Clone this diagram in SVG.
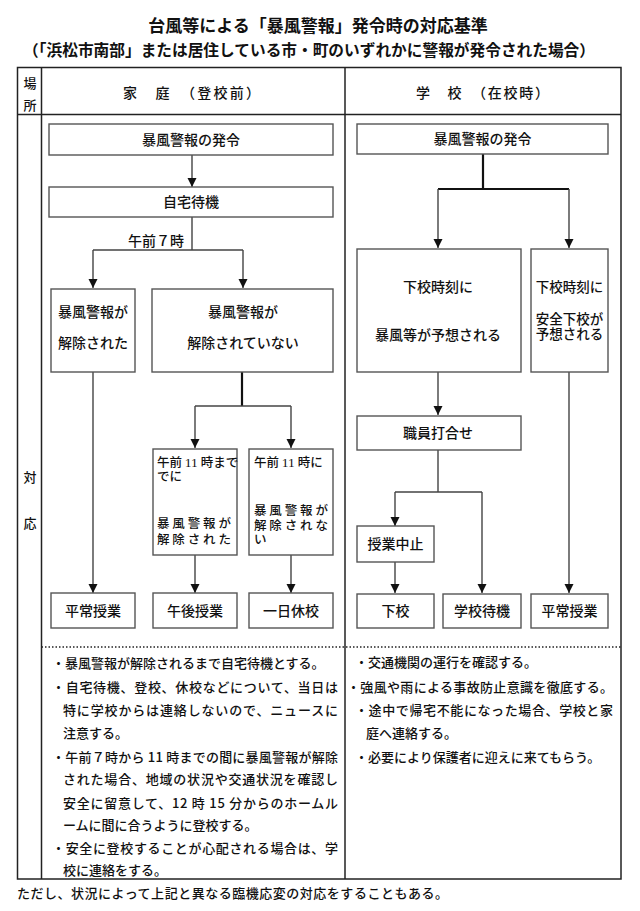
<svg xmlns="http://www.w3.org/2000/svg" width="640" height="911" viewBox="0 0 640 911">
<style>
text{font-family:"Noto Sans CJK JP","Noto Sans CJK SC",sans-serif;fill:#111;}
.t{font-size:17px;font-weight:700;text-anchor:middle;}
.st{font-size:15.5px;font-weight:700;text-anchor:middle;}
.h{font-size:14px;font-weight:500;}
.c{text-anchor:middle;}
.b{font-size:14px;font-weight:500;}
.s{font-size:13.5px;font-weight:500;}
.p{font-size:12.5px;font-weight:500;}
.n{font-size:13px;font-weight:500;}
.box{fill:#fff;stroke:#555;stroke-width:1.4;}
.tbl{fill:none;stroke:#222;stroke-width:1.5;}
.ln{fill:none;stroke:#444;stroke-width:1.4;}
.thk{fill:none;stroke:#111;stroke-width:2.2;}
.arr{marker-end:url(#ah);}
.serif{font-family:"Liberation Serif",serif;font-size:13.5px;}
</style>
<defs>
<marker id="ah" markerUnits="userSpaceOnUse" markerWidth="9" markerHeight="10" refX="9" refY="4.5" orient="auto" viewBox="0 0 9 9">
<path d="M0,0 L9,4.5 L0,9 z" fill="#111"/>
</marker>
</defs>
<rect width="640" height="911" fill="#fff"/>
<text class="t" x="318" y="31.5">台風等による「暴風警報」発令時の対応基準</text>
<text class="st" x="309" y="55.5" textLength="572" lengthAdjust="spacingAndGlyphs">（「浜松市南部」または居住している市・町のいずれかに警報が発令された場合）</text>
<g id="table">
<rect class="tbl" x="17.5" y="67.5" width="603.5" height="811.5"/>
<line class="tbl" x1="41.5" y1="67.5" x2="41.5" y2="879"/>
<line class="tbl" x1="345" y1="67.5" x2="345" y2="879"/>
<line class="tbl" x1="17.5" y1="114.5" x2="621" y2="114.5"/>
<line x1="41.5" y1="647" x2="621" y2="647" stroke="#222" stroke-width="1.4" stroke-dasharray="1.5,2"/>
<text class="n c" x="30" y="88">場</text>
<text class="n c" x="30" y="110">所</text>
<text class="h" x="123" y="98" textLength="137">家　庭　（登校前）</text>
<text class="h" x="416" y="98" textLength="133">学　校　（在校時）</text>
<text class="n c" x="30" y="482">対</text>
<text class="n c" x="30" y="528">応</text>
</g>
<g id="connectors">
<path class="ln arr" d="M192,155 V187"/>
<path class="ln" d="M192,217 V250 M93,250 H243"/>
<path class="ln arr" d="M93,250 V288"/>
<path class="ln arr" d="M243,250 V288"/>
<path class="ln arr" d="M93,372 V593"/>
<path class="thk" d="M242,372 V406"/>
<path class="ln" d="M195,406 H291"/>
<path class="ln arr" d="M195,406 V448"/>
<path class="ln arr" d="M291,406 V448"/>
<path class="ln arr" d="M195,555 V593"/>
<path class="ln arr" d="M291,555 V593"/>
<path class="thk" d="M483,154 V189 M438,189 H569"/>
<path class="ln arr" d="M438,189 V248"/>
<path class="ln arr" d="M569,189 V248"/>
<path class="ln arr" d="M438,372 V415"/>
<path class="ln" d="M438,450 V492 M395,492 H482"/>
<path class="ln arr" d="M395,492 V526"/>
<path class="ln arr" d="M482,492 V593"/>
<path class="ln arr" d="M395,562 V593"/>
<path class="ln arr" d="M569,372 V593"/>
<text class="b" x="184" y="246" text-anchor="end">午前７時</text>
</g>
<g id="L1"><rect class="box" x="49" y="124" width="284" height="31"/><text class="b c" x="191" y="145">暴風警報の発令</text></g>
<g id="L2"><rect class="box" x="49" y="187" width="284" height="30"/><text class="b c" x="191" y="207">自宅待機</text></g>
<g id="L3"><rect class="box" x="51" y="289" width="84" height="83"/><text class="b c" x="93" y="317">暴風警報が</text><text class="b c" x="93" y="348">解除された</text></g>
<g id="L4"><rect class="box" x="152" y="289" width="181" height="83"/><text class="b c" x="243" y="317">暴風警報が</text><text class="b c" x="243" y="348">解除されていない</text></g>
<g id="L5"><rect class="box" x="153" y="449" width="84" height="106"/>
<text class="p" x="157" y="467">午前 <tspan class="serif">11</tspan> 時まで</text>
<text class="p" x="157" y="481">でに</text>
<text class="p" x="157" y="528" textLength="74" lengthAdjust="spacing">暴風警報が</text>
<text class="p" x="157" y="544" textLength="74" lengthAdjust="spacing">解除された</text></g>
<g id="L6"><rect class="box" x="249" y="449" width="84" height="106"/>
<text class="p" x="254" y="467">午前 <tspan class="serif">11</tspan> 時に</text>
<text class="p" x="254" y="515" textLength="74" lengthAdjust="spacing">暴風警報が</text>
<text class="p" x="254" y="530" textLength="74" lengthAdjust="spacing">解除されな</text>
<text class="p" x="254" y="544">い</text></g>
<g id="L7"><rect class="box" x="51" y="593" width="84" height="35"/><text class="b c" x="93" y="616">平常授業</text></g>
<g id="L8"><rect class="box" x="153" y="593" width="84" height="35"/><text class="b c" x="195" y="616">午後授業</text></g>
<g id="L9"><rect class="box" x="249" y="593" width="84" height="35"/><text class="b c" x="291" y="616">一日休校</text></g>
<g id="R1"><rect class="box" x="357" y="124" width="251" height="30"/><text class="b c" x="482.5" y="144">暴風警報の発令</text></g>
<g id="R2"><rect class="box" x="357" y="249" width="164" height="123"/><text class="b c" x="438" y="292">下校時刻に</text><text class="b c" x="438" y="340">暴風等が予想される</text></g>
<g id="R3"><rect class="box" x="531" y="249" width="77" height="123"/><text class="s c" x="569.5" y="292">下校時刻に</text><text class="s c" x="569.5" y="324">安全下校が</text><text class="s c" x="569.5" y="339">予想される</text></g>
<g id="R4"><rect class="box" x="357" y="416" width="164" height="34"/><text class="b c" x="438" y="438">職員打合せ</text></g>
<g id="R5"><rect class="box" x="357" y="526" width="77" height="36"/><text class="b c" x="395.5" y="549">授業中止</text></g>
<g id="R6"><rect class="box" x="357" y="594" width="77" height="34"/><text class="b c" x="395.5" y="616">下校</text></g>
<g id="R7"><rect class="box" x="443" y="594" width="78" height="34"/><text class="b c" x="482" y="616">学校待機</text></g>
<g id="R8"><rect class="box" x="531" y="594" width="77" height="34"/><text class="b c" x="569.5" y="616">平常授業</text></g>
<g id="notes-left">
<text class="n" x="52" y="668">・暴風警報が解除されるまで自宅待機とする。</text>
<text class="n" x="52" y="692" textLength="286" lengthAdjust="spacing">・自宅待機、登校、休校などについて、当日は</text>
<text class="n" x="63" y="715" textLength="275" lengthAdjust="spacing">特に学校からは連絡しないので、ニュースに</text>
<text class="n" x="63" y="738">注意する。</text>
<text class="n" x="52" y="762" textLength="286" lengthAdjust="spacing">・午前７時から 11 時までの間に暴風警報が解除</text>
<text class="n" x="63" y="784" textLength="275" lengthAdjust="spacing">された場合、地域の状況や交通状況を確認し</text>
<text class="n" x="63" y="808" textLength="275" lengthAdjust="spacing">安全に留意して、12 時 15 分からのホームル</text>
<text class="n" x="63" y="830">ームに間に合うように登校する。</text>
<text class="n" x="52" y="853" textLength="286" lengthAdjust="spacing">・安全に登校することが心配される場合は、学</text>
<text class="n" x="63" y="875">校に連絡をする。</text>
</g>
<g id="notes-right">
<text class="n" x="355" y="667">・交通機関の運行を確認する。</text>
<text class="n" x="347" y="692" textLength="266" lengthAdjust="spacing">・強風や雨による事故防止意識を徹底する。</text>
<text class="n" x="355" y="715" textLength="258" lengthAdjust="spacing">・途中で帰宅不能になった場合、学校と家</text>
<text class="n" x="366" y="738">庭へ連絡する。</text>
<text class="n" x="355" y="762">・必要により保護者に迎えに来てもらう。</text>
</g>
<text class="n" x="17" y="898" textLength="431" lengthAdjust="spacing">ただし、状況によって上記と異なる臨機応変の対応をすることもある。</text>
</svg>
